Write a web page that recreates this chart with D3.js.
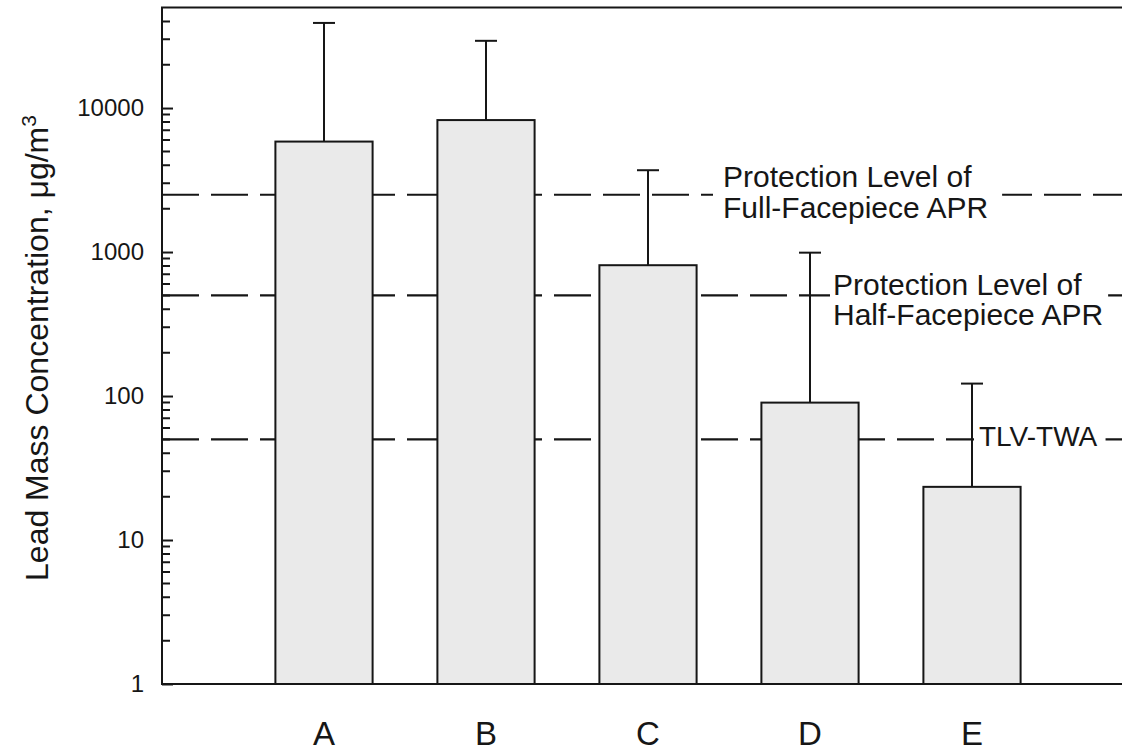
<!DOCTYPE html>
<html><head><meta charset="utf-8">
<script src="https://cdn.jsdelivr.net/npm/d3@7"></script>
<style>
body{margin:0;background:#fff}
text{font-family:"Liberation Sans",Arial,Helvetica,sans-serif;fill:#161616}
</style>
</head><body>
<svg id="chart" width="1122" height="753"></svg>
<script>
// ---- data ----
const categories = ["A", "B", "C", "D", "E"];
const means = [5850, 8250, 810, 90, 23.4];
const errorTops = [39000, 29300, 3700, 990, 122];
const yTickValues = [1, 10, 100, 1000, 10000];
const refLevels = [2500, 500, 50];
const refLabels = [
  ["Protection Level of", "Full-Facepiece APR"],
  ["Protection Level of", "Half-Facepiece APR"],
  ["TLV-TWA"]
];
const yTitle = "Lead Mass Concentration, \u03bcg/m";

// ---- layout ----
const svg = d3.select("#chart");
const plotL = 162, plotR = 1134, plotT = 7.4, plotB = 684;
const x = d3.scaleLinear().domain([0, categories.length + 1]).range([plotL, plotR]);
const y = d3.scaleLog().domain([1, 50000]).range([plotB, plotT]);
const barW = x(0.6) - x(0);
const ink = "#161616";

// reference dashed lines
const refG = svg.append("g");
refLevels.forEach(v => {
  refG.append("line")
    .attr("x1", x(0)).attr("x2", x(categories.length + 1))
    .attr("y1", y(v)).attr("y2", y(v))
    .attr("stroke", ink).attr("stroke-width", 2.2)
    .attr("stroke-dasharray", "37,12");
});

// labels for reference lines (with white gaps in the dashes)
const labelPos = [
  {x: 723, dy: [-8, 23], size: 30, gapL: 10, gapR: 14},
  {x: 833, dy: [0, 30], size: 30, gapL: 3, gapR: 5},
  {x: 979, dy: [7], size: 28, gapL: 5, gapR: 8}
];
const labG = svg.append("g");
refLevels.forEach((v, i) => {
  const g = labG.append("g");
  const t = g.append("text").attr("font-size", labelPos[i].size);
  refLabels[i].forEach((s, k) => {
    t.append("tspan").attr("x", labelPos[i].x).attr("y", y(v) + labelPos[i].dy[k]).text(s);
  });
  const bb = t.node().getBBox();
  g.insert("rect", "text")
    .attr("x", bb.x - labelPos[i].gapL).attr("width", bb.width + labelPos[i].gapL + labelPos[i].gapR)
    .attr("y", y(v) - 3).attr("height", 6).attr("fill", "#fff");
});

// bars
svg.append("g").selectAll("rect").data(categories).join("rect")
  .attr("x", (d, i) => x(i + 1) - barW / 2)
  .attr("width", barW)
  .attr("y", (d, i) => y(means[i]))
  .attr("height", (d, i) => y(1) - y(means[i]))
  .attr("fill", "#eaeaea")
  .attr("stroke", ink).attr("stroke-width", 2);

// error bars (upper only)
const eg = svg.append("g").attr("stroke", ink).attr("stroke-width", 2);
categories.forEach((c, i) => {
  const cx = x(i + 1);
  eg.append("line").attr("x1", cx).attr("x2", cx).attr("y1", y(means[i])).attr("y2", y(errorTops[i]));
  eg.append("line").attr("x1", cx - 11).attr("x2", cx + 11).attr("y1", y(errorTops[i])).attr("y2", y(errorTops[i]));
});

// y axis: major ticks
const yAxis = d3.axisLeft(y).tickValues(yTickValues).tickSize(-11).tickPadding(18)
  .tickFormat(d3.format("d"));
const ag = svg.append("g").attr("transform", `translate(${plotL},0)`).call(yAxis);
ag.attr("font-family", null).attr("font-size", null);
ag.select(".domain").remove();
ag.selectAll(".tick line").attr("stroke", ink).attr("stroke-width", 2);
ag.selectAll(".tick text").attr("font-size", 24).attr("fill", ink);

// minor ticks (2..9 within each decade)
const minor = [];
yTickValues.forEach(p => { for (let k = 2; k <= 9; k++) if (k * p < 50000) minor.push(k * p); });
svg.append("path")
  .attr("d", minor.map(v => `M${plotL},${y(v).toFixed(1)}h8`).join(""))
  .attr("stroke", ink).attr("stroke-width", 2).attr("fill", "none");

// frame (left, top, bottom)
const fg = svg.append("g").attr("stroke", ink).attr("stroke-width", 2).attr("fill", "none");
fg.append("path").attr("d", `M${x(categories.length + 1)},${plotT} H${plotL} V${plotB} H${x(categories.length + 1)}`);

// category labels
svg.append("g").selectAll("text").data(categories).join("text")
  .attr("x", (d, i) => x(i + 1)).attr("y", 745)
  .attr("text-anchor", "middle").attr("font-size", 33).text(d => d);

// y axis title
const tt = svg.append("text")
  .attr("transform", "translate(48,348) rotate(-90)")
  .attr("text-anchor", "middle").attr("font-size", 32);
tt.append("tspan").text(yTitle);
tt.append("tspan").attr("dy", -12).attr("font-size", 21).text("3");
</script>
</body></html>
